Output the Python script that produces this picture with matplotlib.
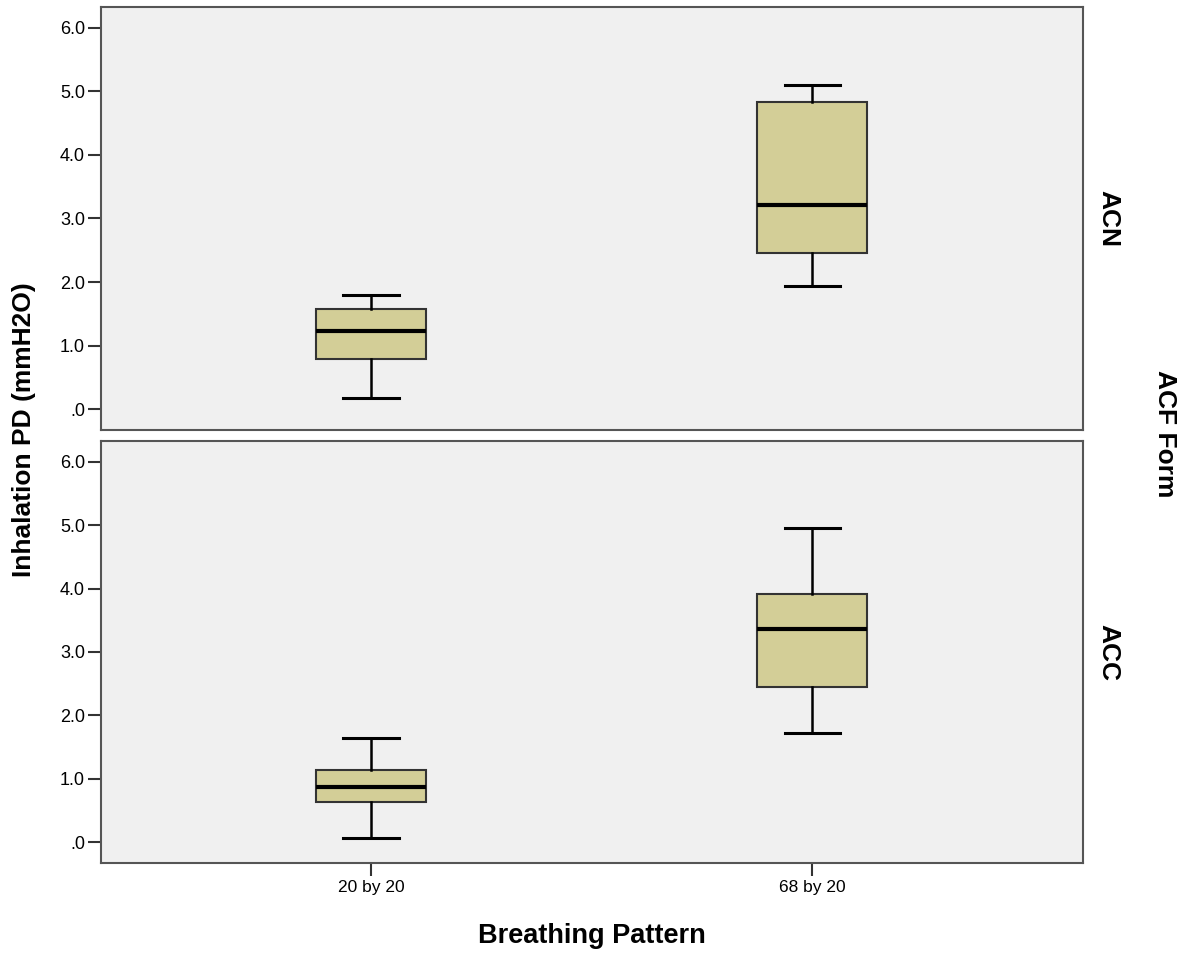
import matplotlib
matplotlib.use('Agg')
import matplotlib.pyplot as plt

plt.rcParams['font.family'] = ['Liberation Sans', 'DejaVu Sans']

patterns = ['20 by 20', '68 by 20']
forms = ['ACN', 'ACC']
# five-number summaries per form: [whislo, q1, med, q3, whishi] for each pattern
acn_stats = [[0.17, 0.79, 1.23, 1.58, 1.80], [1.93, 2.46, 3.22, 4.83, 5.10]]
acc_stats = [[0.06, 0.63, 0.87, 1.13, 1.65], [1.72, 2.44, 3.37, 3.91, 4.96]]
yticks = [0, 1, 2, 3, 4, 5, 6]
ytick_labels = ['.0', '1.0', '2.0', '3.0', '4.0', '5.0', '6.0']

fig = plt.figure(figsize=(11.85, 9.57), dpi=100)
W, H = 1185, 957
left, right = 101 / W, 1083 / W
panels = [(7, 430), (441, 863)]

for (top, bot), form, stats in zip(panels, forms, [acn_stats, acc_stats]):
    ax = fig.add_axes([left, 1 - bot / H, right - left, (bot - top) / H])
    ax.set_facecolor('#f0f0f0')
    bx = []
    for name, s in zip(patterns, stats):
        bx.append({'label': name, 'whislo': s[0], 'q1': s[1], 'med': s[2],
                   'q3': s[3], 'whishi': s[4], 'fliers': []})
    ax.bxp(bx, positions=[0, 1], widths=0.25, patch_artist=True,
           boxprops=dict(facecolor='#d3ce97', edgecolor='#333333', linewidth=1.5),
           medianprops=dict(color='black', linewidth=3),
           whiskerprops=dict(color='black', linewidth=1.8),
           capprops=dict(color='black', linewidth=2.2), capwidths=0.125)
    ax.set_xlim(-0.612, 1.614)
    ax.set_ylim(-0.33, 6.33)
    ax.set_yticks(yticks)
    ax.set_yticklabels(ytick_labels, fontsize=13)
    for sp in ax.spines.values():
        sp.set_color('#555555')
        sp.set_linewidth(1.5)
    ax.tick_params(axis='y', length=9.5, width=1.5, color='#333333', pad=2)
    ax.tick_params(axis='x', length=9, width=1.5, color='#333333', pad=3)
    if form == 'ACN':
        ax.set_xticks([0, 1])
        ax.set_xticklabels([])
        ax.tick_params(axis='x', length=0)
    else:
        ax.set_xticklabels(patterns, fontsize=12.5)
    ycen = 1 - (top + bot) / 2 / H
    fig.text(1108 / W, ycen, form, rotation=-90,
             fontsize=19, fontweight='bold', va='center', ha='center')

fig.text(1165 / W, 1 - 434 / H, 'ACF Form', rotation=-90, fontsize=19,
         fontweight='bold', va='center', ha='center')
fig.text(24 / W, 1 - 430 / H, 'Inhalation PD (mmH2O)', rotation=90, fontsize=19,
         fontweight='bold', va='center', ha='center')
fig.text(592 / W, 1 - 936 / H, 'Breathing Pattern', fontsize=19.5,
         fontweight='bold', va='center', ha='center')

fig.savefig('out.png', dpi=100)
